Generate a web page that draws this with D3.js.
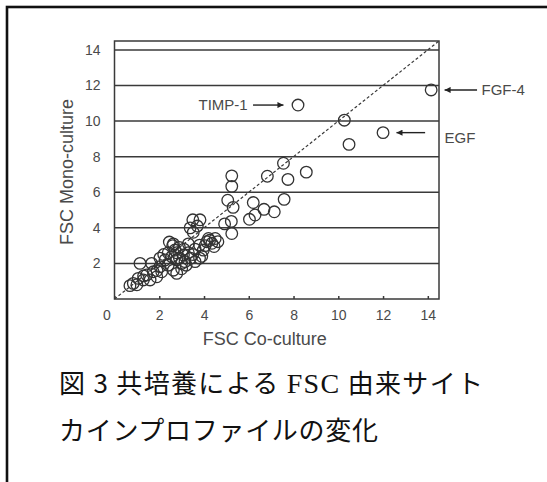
<!DOCTYPE html>
<html>
<head>
<meta charset="utf-8">
<script src="https://cdn.jsdelivr.net/npm/d3@7"></script>
<style>
	body{margin:0;background:#fff;}
	svg{display:block;}
</style>
</head>
<body>
<div id="chart"></div>
<script>
/*global d3*/
// FSC co-culture (x) vs mono-culture (y), one entry per cytokine
var coCulture = [14.15, 8.2, 12.0, 10.27, 10.48, 7.55, 8.57, 6.83, 7.75, 7.58,
	6.2, 6.68, 7.14, 6.28, 6.03, 5.24, 5.24, 5.06, 5.3, 5.22,
	4.92, 5.24, 3.5, 3.82, 3.38, 3.7, 3.52, 4.12, 4.35, 4.62,
	4.45, 3.97, 3.9, 3.8, 4.05, 4.25, 2.63, 2.45, 2.78, 3.08,
	2.78, 3.15, 2.63, 2.56, 2.26, 2.03, 2.03, 1.66, 1.14, 2.11,
	1.73, 1.44, 1.29, 1.06, 0.84, 0.69, 1.59, 1.89, 2.78, 2.7,
	2.9, 3.1, 3.3, 3.4, 3.2, 3.5, 3.6, 3.0, 2.4, 2.2,
	2.9, 3.3, 3.6, 1.0, 1.3, 1.9, 2.4, 3.0, 3.8, 2.6,
	4.2, 4.5];
var monoCulture = [11.75, 10.9, 9.35, 10.05, 8.69, 7.63, 7.13, 6.9, 6.72, 5.6,
	5.42, 5.04, 4.9, 4.72, 4.48, 6.92, 6.33, 5.55, 5.15, 4.36,
	4.22, 3.68, 4.45, 4.45, 4.0, 4.1, 3.75, 3.22, 3.13, 3.22,
	2.95, 2.75, 2.4, 3.03, 3.0, 3.3, 3.1, 3.2, 2.6, 2.47,
	2.2, 2.1, 1.62, 2.38, 2.2, 1.82, 2.3, 2.0, 2.0, 1.53,
	1.53, 1.35, 1.07, 1.16, 0.88, 0.75, 1.07, 1.25, 1.44, 2.75,
	2.9, 2.8, 2.6, 2.3, 1.9, 2.5, 2.1, 2.0, 2.6, 2.5,
	2.3, 3.1, 2.8, 0.8, 1.3, 1.6, 1.9, 1.7, 2.3, 3.0,
	3.4, 3.4];

var xTicks = [0, 2, 4, 6, 8, 10, 12, 14];
var yTicks = [2, 4, 6, 8, 10, 12, 14];

// labelled cytokines: arrow from -> to, in data units
var annLabels = ["TIMP-1", "FGF-4", "EGF"];
var annFrom = [[6.19, 10.9], [16.2, 11.75], [13.88, 9.35]];
var annTo = [[7.55, 10.9], [14.75, 11.75], [12.6, 9.35]];
var annText = [[5.95, 10.9], [16.4, 11.75], [14.75, 9.05]];
var annAnchor = ["end", "start", "start"];

// caption pieces: [text, serif?]
var captionLine1 = [["図 3 共培養による ", false], ["FSC", true], [" 由来サイト", false]];
var captionLine2 = "カインプロファイルの変化";

var width = 547, height = 482;
var svg = d3.select("#chart").append("svg")
	.attr("width", width)
	.attr("height", height);

svg.append("rect").attr("width", width).attr("height", height).attr("fill", "#fff");

//outer frame (runs off right and bottom)
svg.append("rect")
	.attr("x", 7).attr("y", 7)
	.attr("width", 700).attr("height", 700)
	.attr("fill", "none")
	.attr("stroke", "#111")
	.attr("stroke-width", 2.6);

var x = d3.scaleLinear().domain([0, 14.5]).range([114.5, 439]);
var y = d3.scaleLinear().domain([0, 14.5]).range([299, 41]);

var ink = "#3a3a3a";
var txt = "#4a4a4a";
var sans = "'Liberation Sans', Arial, sans-serif";

//horizontal grid
svg.append("g").selectAll("line").data(yTicks).enter().append("line")
	.attr("x1", x(0)).attr("x2", x(14.5))
	.attr("y1", function(d){return y(d);})
	.attr("y2", function(d){return y(d);})
	.attr("stroke", ink)
	.attr("stroke-width", 1.5);

//plot frame
svg.append("rect")
	.attr("x", x(0)).attr("y", y(14.5))
	.attr("width", x(14.5) - x(0))
	.attr("height", y(0) - y(14.5))
	.attr("fill", "none")
	.attr("stroke", ink)
	.attr("stroke-width", 1.5);

//axes
var bAxis = d3.axisBottom(x).tickValues(xTicks).tickSize(-3).tickPadding(11);
var bAxisGroup = svg.append("g").attr("transform", "translate(0," + y(0) + ")").call(bAxis);
var lAxis = d3.axisLeft(y).tickValues(yTicks).tickSize(0).tickPadding(14);
var lAxisGroup = svg.append("g").attr("transform", "translate(" + x(0) + ",0)").call(lAxis);

[bAxisGroup, lAxisGroup].forEach(function(g){
	g.select(".domain").remove();
	g.selectAll("line").attr("stroke", ink).attr("stroke-width", 1.5);
	g.selectAll("text").attr("fill", txt).style("font-family", sans).style("font-size", "14px");
});
//the "0" label sits left of the corner in the original
bAxisGroup.selectAll(".tick text").filter(function(d){return d === 0;}).attr("dx", -8);

//y = x reference line
svg.append("line")
	.attr("x1", x(0)).attr("y1", y(0))
	.attr("x2", x(14.5)).attr("y2", y(14.5))
	.attr("stroke", ink)
	.attr("stroke-width", 1.2)
	.attr("stroke-dasharray", "3,2.2");

//points
var points = d3.range(coCulture.length).map(function(i){ return [coCulture[i], monoCulture[i]]; });
svg.append("g").selectAll("circle").data(points).enter().append("circle")
	.attr("cx", function(d){return x(d[0]);})
	.attr("cy", function(d){return y(d[1]);})
	.attr("r", 5.8)
	.attr("fill", "none")
	.attr("stroke", "#333")
	.attr("stroke-width", 1.3);

//arrow head
svg.append("defs").append("marker")
	.attr("id", "head")
	.attr("viewBox", "0 0 10 10")
	.attr("refX", 10).attr("refY", 5)
	.attr("markerWidth", 9).attr("markerHeight", 6)
	.attr("markerUnits", "userSpaceOnUse")
	.attr("orient", "auto")
	.append("path").attr("d", "M0,0L10,5L0,10Z").attr("fill", "#222");

annLabels.forEach(function(label, i){
	svg.append("line")
		.attr("x1", x(annFrom[i][0])).attr("y1", y(annFrom[i][1]))
		.attr("x2", x(annTo[i][0])).attr("y2", y(annTo[i][1]))
		.attr("stroke", "#222")
		.attr("stroke-width", 1.4)
		.attr("marker-end", "url(#head)");
	svg.append("text")
		.attr("x", x(annText[i][0])).attr("y", y(annText[i][1]))
		.attr("dy", "0.35em")
		.attr("text-anchor", annAnchor[i])
		.attr("fill", txt)
		.style("font-family", sans)
		.style("font-size", "15px")
		.text(label);
});

//axis titles
svg.append("text")
	.attr("x", (x(0) + x(14.5)) / 2 - 12).attr("y", 345)
	.attr("text-anchor", "middle")
	.attr("fill", txt)
	.style("font-family", sans).style("font-size", "18px")
	.text("FSC Co-culture");

svg.append("text")
	.attr("transform", "translate(73,172) rotate(-90)")
	.attr("text-anchor", "middle")
	.attr("fill", txt)
	.style("font-family", sans).style("font-size", "18px")
	.text("FSC Mono-culture");

//caption
var cjk = "'Noto Sans CJK JP', sans-serif";
var cap1 = svg.append("text")
	.attr("x", 59).attr("y", 393)
	.attr("textLength", 424)
	.attr("lengthAdjust", "spacing")
	.attr("fill", "#111")
	.style("font-size", "26px")
	.style("white-space", "pre");
captionLine1.forEach(function(p){
	cap1.append("tspan")
		.style("font-family", p[1] ? "'Liberation Serif', 'Times New Roman', serif" : cjk)
		.style("font-size", p[1] ? "28px" : "26px")
		.text(p[0]);
});

svg.append("text")
	.attr("x", 59).attr("y", 440)
	.attr("textLength", 319)
	.attr("lengthAdjust", "spacing")
	.attr("fill", "#111")
	.style("font-family", cjk)
	.style("font-size", "26px")
	.text(captionLine2);
</script>
</body>
</html>
